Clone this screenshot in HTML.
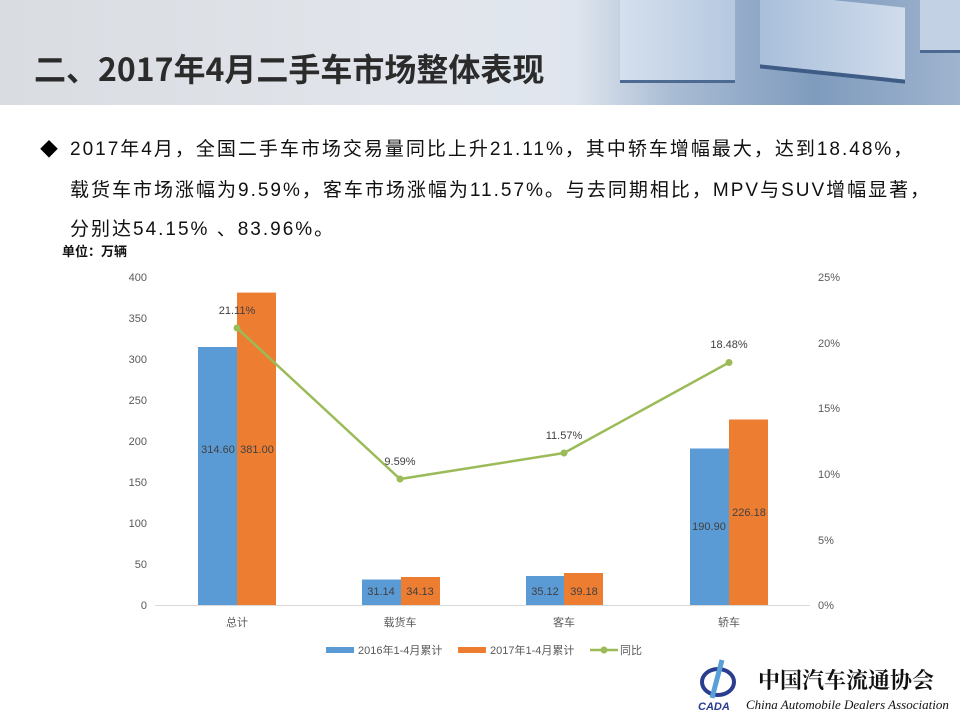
<!DOCTYPE html>
<html><head><meta charset="utf-8"><style>
body{margin:0;width:960px;height:720px;overflow:hidden;background:#fff;font-family:"Liberation Sans","Noto Sans CJK SC",sans-serif;position:relative}
.hdr{position:absolute;left:0;top:0;width:960px;height:105px;background:linear-gradient(90deg,#d9dce1 0%,#e2e6ec 45%,#dfe5ee 60%,#a9bcd4 70%,#7f9bbd 85%,#9fb4cf 100%)}
.t{position:absolute;left:34px;top:45px;font-size:32px;font-weight:bold;color:#2b2b2b;font-family:"Noto Sans CJK SC",sans-serif;letter-spacing:0}
.p{position:absolute;left:70px;font-size:19px;color:#111;letter-spacing:2px;white-space:nowrap}
</style></head><body>
<div class="hdr">
<div style="position:absolute;left:620px;top:0;width:115px;height:80px;background:linear-gradient(90deg,#d5e0ee,#b5c8e0);border-bottom:3px solid #4c6a92"></div>
<div style="position:absolute;left:760px;top:0;width:145px;height:72px;background:linear-gradient(90deg,#a9bfda,#d0dcec);border-bottom:4px solid #3e5c86;transform:skewY(6deg)"></div>
<div style="position:absolute;left:920px;top:0;width:40px;height:50px;background:#c2d1e4;border-bottom:3px solid #4c6a92"></div>
</div>
<div class="t">二、2017年4月二手车市场整体表现</div>
<div style="position:absolute;left:40px;top:136px;font-size:18px">◆</div>
<div class="p" style="top:134px">2017年4月，全国二手车市场交易量同比上升21.11%，其中轿车增幅最大，达到18.48%，</div>
<div class="p" style="top:175px">载货车市场涨幅为9.59%，客车市场涨幅为11.57%。与去同期相比，MPV与SUV增幅显著，</div>
<div class="p" style="top:214px">分别达54.15% 、83.96%。</div>
<div style="position:absolute;left:62px;top:241px;font-size:13px;color:#111;font-weight:bold">单位：万辆</div>
<svg width="960" height="720" style="position:absolute;left:0;top:0" font-family="Liberation Sans,Noto Sans CJK SC,sans-serif" font-size="11" fill="#595959">
<g text-anchor="end">
<text x="147" y="281">400</text><text x="147" y="322">350</text><text x="147" y="363">300</text><text x="147" y="404">250</text><text x="147" y="445">200</text><text x="147" y="486">150</text><text x="147" y="527">100</text><text x="147" y="568">50</text><text x="147" y="609">0</text>
</g>
<g>
<text x="818" y="281">25%</text><text x="818" y="347">20%</text><text x="818" y="412">15%</text><text x="818" y="478">10%</text><text x="818" y="544">5%</text><text x="818" y="609">0%</text>
</g>
<line x1="155" y1="605.5" x2="810" y2="605.5" stroke="#d9d9d9"/>
<g fill="#5b9bd5">
<rect x="198" y="347" width="39" height="258"/><rect x="362" y="579.5" width="39" height="25.5"/><rect x="526" y="576" width="38" height="29"/><rect x="690" y="448.5" width="39" height="156.5"/>
</g>
<g fill="#ed7d31">
<rect x="237" y="292.6" width="39" height="312.4"/><rect x="401" y="577" width="39" height="28"/><rect x="564" y="573" width="39" height="32"/><rect x="729" y="419.5" width="39" height="185.5"/>
</g>
<g fill="#404040" text-anchor="middle">
<text x="218" y="453">314.60</text><text x="257" y="453">381.00</text>
<text x="381" y="595">31.14</text><text x="420" y="595">34.13</text>
<text x="545" y="595">35.12</text><text x="584" y="595">39.18</text>
<text x="709" y="530">190.90</text><text x="749" y="516">226.18</text>
</g>
<polyline points="237,328 400,479 564,453 729,362.5" fill="none" stroke="#9bbb59" stroke-width="2.5"/>
<g fill="#9bbb59"><circle cx="237" cy="328" r="3.5"/><circle cx="400" cy="479" r="3.5"/><circle cx="564" cy="453" r="3.5"/><circle cx="729" cy="362.5" r="3.5"/></g>
<g fill="#404040" text-anchor="middle">
<text x="237" y="314">21.11%</text><text x="400" y="465">9.59%</text><text x="564" y="439">11.57%</text><text x="729" y="348">18.48%</text>
</g>
<g text-anchor="middle">
<text x="237" y="626">总计</text><text x="400" y="626">载货车</text><text x="564" y="626">客车</text><text x="729" y="626">轿车</text>
</g>
<rect x="326" y="647" width="28" height="6" fill="#5b9bd5"/><text x="358" y="654">2016年1-4月累计</text>
<rect x="458" y="647" width="28" height="6" fill="#ed7d31"/><text x="490" y="654">2017年1-4月累计</text>
<line x1="590" y1="650" x2="618" y2="650" stroke="#9bbb59" stroke-width="2.5"/><circle cx="604" cy="650" r="3.5" fill="#9bbb59"/><text x="620" y="654">同比</text>
<ellipse cx="718" cy="682" rx="16" ry="13" fill="none" stroke="#2a3d8f" stroke-width="4"/>
<path d="M722 660 L712 698" stroke="#5aa0d8" stroke-width="5"/>
<text x="698" y="710" font-size="11" font-weight="bold" fill="#2a3d8f" font-style="italic">CADA</text>
<text x="758" y="688" font-size="22" font-weight="bold" fill="#111" font-family="Noto Serif CJK SC,serif">中国汽车流通协会</text>
<text x="746" y="709" font-size="13" font-style="italic" fill="#111" font-family="Liberation Serif,serif">China Automobile Dealers Association</text>
</svg>
</body></html>
